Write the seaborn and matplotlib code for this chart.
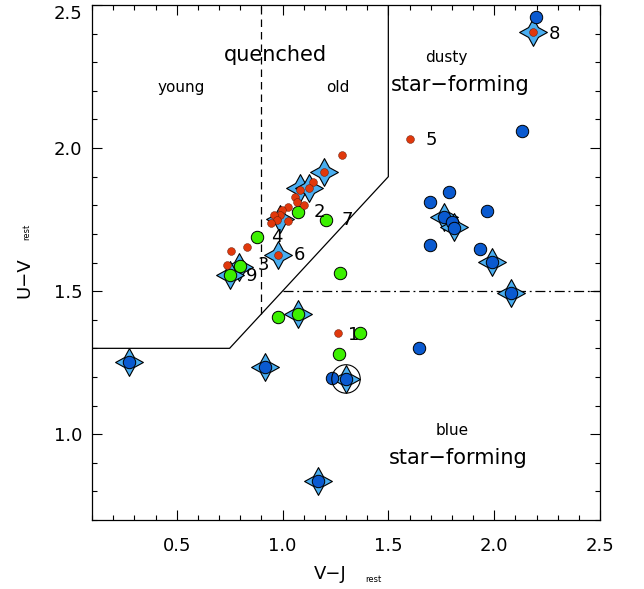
import numpy as np
import pandas as pd
import matplotlib
matplotlib.use("Agg")
import matplotlib.pyplot as plt
import seaborn as sns
from matplotlib.ticker import MultipleLocator

# ---------------- data ----------------
red_x = [1.60, 2.185, 1.28, 1.197, 1.146, 1.083, 1.123, 1.06, 1.068, 1.102, 1.028,
         0.997, 0.989, 0.96, 0.973, 0.945, 1.028, 0.831, 0.756, 0.981, 0.74, 1.262]
red_y = [2.03, 2.405, 1.976, 1.917, 1.882, 1.855, 1.862, 1.83, 1.81, 1.80, 1.795,
         1.783, 1.766, 1.766, 1.748, 1.739, 1.746, 1.653, 1.641, 1.626, 1.591, 1.354]

green_x = [1.071, 1.205, 0.879, 0.80, 0.752, 1.273, 0.978, 1.073, 1.367, 1.265]
green_y = [1.777, 1.748, 1.69, 1.588, 1.556, 1.565, 1.41, 1.42, 1.352, 1.28]

blue_x = [2.199, 2.131, 1.785, 1.698, 1.966, 1.761, 1.80, 1.81, 1.695, 1.935,
          1.99, 2.08, 1.646, 1.233, 1.30, 0.918, 0.275, 1.169]
blue_y = [2.458, 2.06, 1.847, 1.812, 1.78, 1.76, 1.74, 1.72, 1.661, 1.646,
          1.602, 1.492, 1.30, 1.195, 1.193, 1.235, 1.251, 0.836]

star_x = [2.185, 1.197, 1.083, 1.123, 0.989, 0.981, 0.796, 0.752, 1.073, 0.918,
          0.275, 1.30, 1.169, 1.761, 1.81, 1.99, 2.08]
star_y = [2.405, 1.917, 1.859, 1.859, 1.752, 1.626, 1.585, 1.556, 1.42, 1.235,
          1.251, 1.193, 0.836, 1.76, 1.725, 1.602, 1.492]

ring_x = [1.30]
ring_y = [1.193]

id_labels = ["1", "2", "3", "4", "5", "6", "7", "8", "9"]
id_x = [1.31, 1.145, 0.885, 0.946, 1.675, 1.055, 1.277, 2.256, 0.828]
id_y = [1.346, 1.776, 1.591, 1.689, 2.027, 1.626, 1.748, 2.40, 1.552]

# selection boundaries
box_x = [0.1, 0.75, 1.5, 1.5]
box_y = [1.3, 1.3, 1.9, 2.5]
age_x = [0.9, 0.9]
age_y = [1.42, 2.5]
dust_x = [1.0, 2.5]
dust_y = [1.5, 1.5]

# ---------------- plot ----------------
sns.set_style("ticks")
plt.rcParams['font.family'] = ['DejaVu Sans']
plt.rcParams['text.color'] = 'black'
plt.rcParams['xtick.color'] = 'black'
plt.rcParams['ytick.color'] = 'black'
plt.rcParams['xtick.labelcolor'] = 'black'
plt.rcParams['ytick.labelcolor'] = 'black'

fig = plt.figure(figsize=(6.44, 5.89), dpi=100)
ax = fig.add_axes([92/644, 1-520/589, (600-92)/644, (520-5)/589])

lw = 0.9
ax.plot(box_x, box_y, color="black", lw=lw)
ax.plot(age_x, age_y, color="black", lw=lw, ls=(0, (6, 4)))
ax.plot(dust_x, dust_y, color="black", lw=lw, ls=(0, (8, 3, 1.5, 3)))

star_df = pd.DataFrame({"x": star_x, "y": star_y})
sns.scatterplot(data=star_df, x="x", y="y", marker=(4, 1, 0), s=400,
                color="#4aaef0", edgecolor="black", linewidth=0.8, ax=ax, zorder=3)

blue_df = pd.DataFrame({"x": blue_x, "y": blue_y})
sns.scatterplot(data=blue_df, x="x", y="y", marker="o", s=80,
                color="#0a5ad0", edgecolor="black", linewidth=0.7, ax=ax, zorder=4)

green_df = pd.DataFrame({"x": green_x, "y": green_y})
sns.scatterplot(data=green_df, x="x", y="y", marker="o", s=80,
                color="#3cf000", edgecolor="black", linewidth=0.7, ax=ax, zorder=5)

red_df = pd.DataFrame({"x": red_x, "y": red_y})
sns.scatterplot(data=red_df, x="x", y="y", marker="o", s=32,
                color="#e0380c", edgecolor="#551100", linewidth=0.3, ax=ax, zorder=6)

ring_df = pd.DataFrame({"x": ring_x, "y": ring_y})
sns.scatterplot(data=ring_df, x="x", y="y", marker="o", s=420,
                facecolor="none", edgecolor="black", linewidth=0.8, ax=ax, zorder=7)

for t, x, y in zip(id_labels, id_x, id_y):
    ax.text(x, y, t, fontsize=13, ha="left", va="center", color="black", zorder=8)

ax.text(0.965, 2.325, "quenched", fontsize=15, ha="center", va="center")
ax.text(0.52, 2.21, "young", fontsize=11, ha="center", va="center")
ax.text(1.26, 2.21, "old", fontsize=11, ha="center", va="center")
ax.text(1.775, 2.315, "dusty", fontsize=11, ha="center", va="center")
ax.text(1.84, 2.22, "star\u2212forming", fontsize=15, ha="center", va="center")
ax.text(1.80, 1.014, "blue", fontsize=11, ha="center", va="center")
ax.text(1.83, 0.916, "star\u2212forming", fontsize=15, ha="center", va="center")

ax.set_xlim(0.1, 2.5)
ax.set_ylim(0.7, 2.5)
ax.xaxis.set_minor_locator(MultipleLocator(0.1))
ax.yaxis.set_minor_locator(MultipleLocator(0.1))
ax.set_xticks([0.5, 1.0, 1.5, 2.0, 2.5])
ax.set_xticklabels(["0.5", "1.0", "1.5", "2.0", "2.5"])
ax.set_yticks([1.0, 1.5, 2.0, 2.5])
ylabs = ax.set_yticklabels(["1.0", "1.5", "2.0", "2.5"])
ylabs[-1].set_va("top")
ax.tick_params(which="both", direction="in", top=True, right=True, width=0.8,
               labelsize=13, color="black", labelcolor="black")
ax.tick_params(which="major", length=7)
ax.tick_params(which="minor", length=3.6)
ax.tick_params(axis="x", pad=12)
ax.tick_params(axis="y", pad=7)
for sp in ax.spines.values():
    sp.set_visible(True)
    sp.set_linewidth(0.9)
    sp.set_color("black")
ax.set_xlabel("")
ax.set_ylabel("")

fig.text(330/644, 1-574/589, "V\u2212J", fontsize=13, ha="center", va="center")
fig.text(373/644, 1-580/589, "rest", fontsize=6, ha="center", va="center")
fig.text(24/644, 1-278/589, "U\u2212V", fontsize=13, ha="center", va="center", rotation=90)
fig.text(27/644, 1-232/589, "rest", fontsize=6, ha="center", va="center", rotation=90)

fig.savefig("out.png", dpi=100)
